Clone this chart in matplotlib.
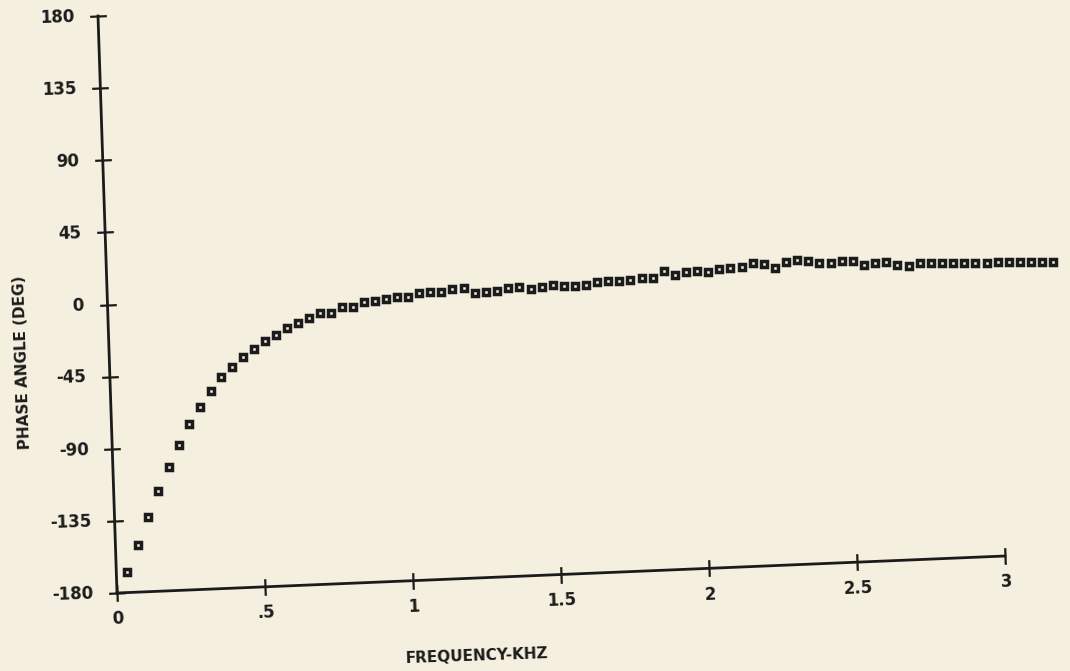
import numpy as np
import matplotlib
matplotlib.use("Agg")
import matplotlib.pyplot as plt
from matplotlib.transforms import Affine2D
import mpl_toolkits.axisartist.floating_axes as floating_axes
from mpl_toolkits.axisartist.grid_finder import FixedLocator, DictFormatter

# phase angle, one sample every ~0.0376 kHz
freq_step = 0.0376
phase = [-167.0, -150.6, -133.7, -117.6, -102.7, -89.4, -76.6, -66.3, -56.4, -48.3,
         -42.4, -36.1, -31.4, -26.7, -23.2, -19.6, -16.7, -13.9, -11.0, -11.0,
         -7.9, -7.8, -5.3, -4.6, -3.7, -2.7, -3.0, -1.2, -0.8, -0.8,
         0.8, 1.0, -2.6, -2.1, -1.6, -0.2, 0.0, -1.6, -0.6, 0.4,
         -0.4, -0.7, -0.3, 1.4, 1.8, 1.3, 1.8, 2.4, 2.5, 6.3,
         3.9, 5.4, 5.7, 4.6, 6.2, 6.7, 7.0, 8.9, 8.2, 5.6,
         9.0, 9.8, 8.9, 7.5, 7.2, 8.2, 7.9, 4.9, 5.7, 6.4,
         4.3, 3.2, 4.9, 4.3, 4.0, 3.7, 3.4, 3.5, 3.2, 3.2,
         2.9, 2.6, 2.5, 2.2, 2.1]
freq = np.arange(1, len(phase) + 1) * freq_step

x_ticks = [0, 0.5, 1, 1.5, 2, 2.5, 3]
x_labels = ["0", ".5", "1", "1.5", "2", "2.5", "3"]
y_ticks = [-180, -135, -90, -45, 0, 45, 90, 135, 180]
y_labels = ["-180", "-135", "-90", "-45", "0", "45", "90", "135", "180"]

paper = "#f4efdf"
ink = "#1b1b1b"

W, H = 1070, 671
fig = plt.figure(figsize=(W / 100, H / 100), dpi=100, facecolor=paper)

# the scanned page sits a couple of degrees off, so the frame is an affine map:
# x axis climbs 37px over 3 kHz, y axis leans 19px over 360 deg
tr = Affine2D(np.array([[296.0, -19 / 360, 0],
                        [37 / 3, 577 / 360, 0],
                        [0, 0, 1]]))

gh = floating_axes.GridHelperCurveLinear(
    tr, extremes=(0, 3, -180, 180),
    grid_locator1=FixedLocator(x_ticks),
    tick_formatter1=DictFormatter(dict(zip(x_ticks, x_labels))),
    grid_locator2=FixedLocator(y_ticks),
    tick_formatter2=DictFormatter(dict(zip(y_ticks, y_labels))))
ax = fig.add_axes([0.1, 0.1, 0.8, 0.8], axes_class=floating_axes.FloatingAxes,
                  grid_helper=gh)

# 1 data unit of the transformed frame = 1 pixel, origin at (117, 78) px
x0, x1 = ax.get_xlim()
y0, y1 = ax.get_ylim()
ox, oy = tr.transform((0, -180))
ax.set_position([(117 - (ox - x0)) / W, (78 - (oy - y0)) / H,
                 (x1 - x0) / W, (y1 - y0) / H])
ax.patch.set_facecolor(paper)

for side in ["top", "right"]:
    ax.axis[side].set_visible(False)

for side in ["left", "bottom"]:
    a = ax.axis[side]
    a.line.set_linewidth(2)
    a.line.set_color(ink)
    a.major_ticks.set_ticksize(6)
    a.major_ticks.set_color(ink)
    a.major_ticks.set_markeredgecolor(ink)
    a.major_ticks.set_markeredgewidth(1.6)
    a.major_ticklabels.set_fontsize(12)
    a.major_ticklabels.set_fontweight("bold")
    a.major_ticklabels.set_color(ink)
    # second copy only to get ticks crossing the line
    dup = gh.new_fixed_axis(side, axes=ax)
    ax.axis[side + "_out"] = dup
    dup.line.set_visible(False)
    dup.major_ticks.set_tick_out(True)
    dup.major_ticks.set_ticksize(6)
    dup.major_ticks.set_color(ink)
    dup.major_ticks.set_markeredgecolor(ink)
    dup.major_ticks.set_markeredgewidth(1.6)
    dup.major_ticklabels.set_visible(False)
    dup.label.set_visible(False)

ax.axis["left"].major_ticklabels.set_pad(17)
ax.axis["bottom"].major_ticklabels.set_pad(13)

aux = ax.get_aux_axes(tr)
aux.plot(freq, phase, ls="none", marker="s", ms=4.7, mfc=paper, mec=ink, mew=2.5,
         clip_on=False)

fig.text(22 / W, 1 - 362 / H, "PHASE ANGLE (DEG)", rotation=92, fontsize=11,
         fontweight="bold", color=ink, ha="center", va="center")
fig.text(477 / W, 1 - 656 / H, "FREQUENCY-KHZ", rotation=2, fontsize=11,
         fontweight="bold", color=ink, ha="center", va="center")

fig.savefig("out.png", dpi=100, facecolor=paper)
